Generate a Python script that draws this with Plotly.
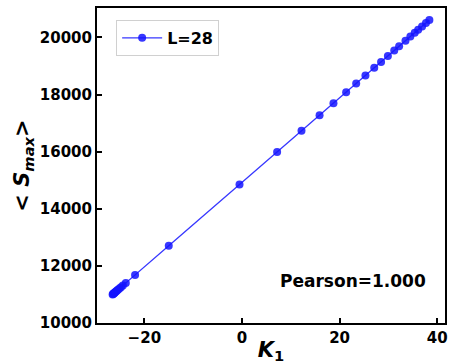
import plotly.graph_objects as go

k1 = [-26.5, -26.4, -26.3, -26.2, -26.1, -25.95, -25.8, -25.6, -25.4, -25.1,
      -24.8, -24.4, -23.8, -21.9, -15.0, -0.5, 7.2, 12.2, 15.9, 18.75,
      21.35, 23.4, 25.3, 27.1, 28.5, 29.9, 31.2, 32.2, 33.5, 34.5,
      35.4, 36.1, 36.9, 37.7, 38.4]
s_max = [11002, 11017, 11031, 11046, 11061, 11083, 11106, 11135, 11165, 11209,
         11254, 11313, 11402, 11683, 12704, 14850, 15990, 16730, 17277, 17699,
         18084, 18387, 18668, 18935, 19142, 19349, 19542, 19690, 19882, 20030,
         20163, 20267, 20385, 20504, 20607]
series_name = "L=28"
pearson_text = "Pearson=1.000"
y_ticks = [10000, 12000, 14000, 16000, 18000, 20000]
x_ticks = [-20, 0, 20, 40]

blue = "rgba(20,20,255,0.85)"
font_family = "DejaVu Sans"

fig = go.Figure()
fig.add_trace(go.Scatter(
    x=k1, y=s_max, mode="lines+markers", name=series_name,
    line=dict(color=blue, width=1.3),
    marker=dict(color=blue, size=8),
))

fig.add_annotation(
    x=22.8, y=11470, xref="x", yref="y", text=pearson_text, showarrow=False,
    font=dict(family=font_family, size=17, color="black", weight="bold"),
)

axis_common = dict(
    showline=True, linecolor="black", linewidth=2, mirror=True,
    ticks="inside", ticklen=5, tickwidth=1.5, tickcolor="black",
    showgrid=False, zeroline=False, automargin=False,
    tickfont=dict(family=font_family, size=15, color="black", weight="bold"),
)

fig.update_xaxes(
    range=[-29.7, 41.6], tickvals=x_ticks, **axis_common,
    title=dict(text="<i>K</i><sub>1</sub>", standoff=4,
               font=dict(family=font_family, size=21, color="black", weight="bold")),
)
fig.update_yaxes(
    range=[10000, 21030], tickvals=y_ticks, tickformat="d", **axis_common,
    title=dict(text="&lt; <i>S</i><sub><i>max</i></sub>&gt;", standoff=4,
               font=dict(family=font_family, size=21, color="black", weight="bold")),
)

fig.update_layout(
    width=449, height=364,
    margin=dict(l=97, r=4, t=8, b=41),
    paper_bgcolor="white", plot_bgcolor="white",
    showlegend=True,
    legend=dict(
        x=0.055, y=0.962, xanchor="left", yanchor="top", itemwidth=40,
        bgcolor="white", bordercolor="#d0d0d0", borderwidth=1,
        font=dict(family=font_family, size=16, color="black", weight="bold"),
    ),
)

fig.write_html("out.html", config={"displayModeBar": False},
               post_script="document.body.style.margin='0';")
